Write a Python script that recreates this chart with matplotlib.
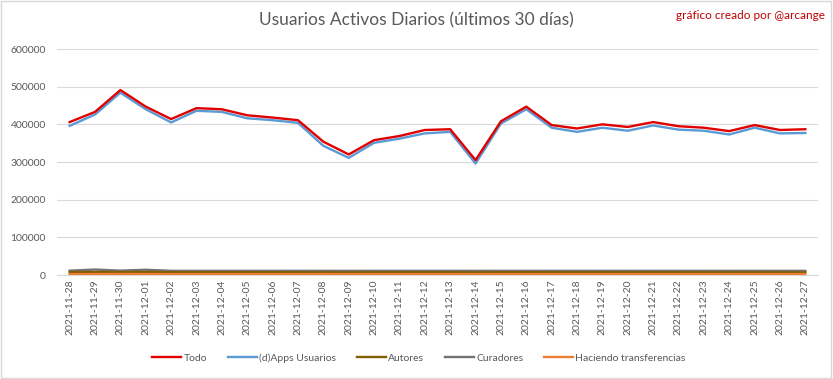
import matplotlib.pyplot as plt
from matplotlib.patches import Rectangle

plt.rcParams['font.family'] = ['Lato', 'DejaVu Sans']

fechas = ['2021-11-28', '2021-11-29', '2021-11-30', '2021-12-01', '2021-12-02',
          '2021-12-03', '2021-12-04', '2021-12-05', '2021-12-06', '2021-12-07',
          '2021-12-08', '2021-12-09', '2021-12-10', '2021-12-11', '2021-12-12',
          '2021-12-13', '2021-12-14', '2021-12-15', '2021-12-16', '2021-12-17',
          '2021-12-18', '2021-12-19', '2021-12-20', '2021-12-21', '2021-12-22',
          '2021-12-23', '2021-12-24', '2021-12-25', '2021-12-26', '2021-12-27']

todo = [406000, 433000, 491000, 447000, 414000, 443000, 440000, 424000, 418000, 411000,
        354000, 320000, 358000, 369000, 385000, 387000, 305000, 408000, 447000, 398000,
        389000, 400000, 393000, 406000, 395000, 391000, 382000, 398000, 385000, 387000]
dapps = [396000, 426000, 484000, 440000, 405000, 436000, 433000, 416000, 411000, 404000,
         343000, 311000, 351000, 362000, 376000, 380000, 296000, 402000, 440000, 391000,
         380000, 391000, 383000, 397000, 386000, 383000, 373000, 391000, 376000, 377000]
autores = [7500, 8000, 7800, 8000, 7600, 7400, 7300, 7200, 7200, 7100,
           6900, 6800, 7000, 7100, 7100, 7100, 6800, 7200, 7300, 7100,
           7000, 7100, 7000, 7100, 7000, 7000, 6900, 7000, 6900, 6900]
curadores = [11500, 14500, 11500, 14000, 11000, 11000, 11000, 11000, 11000, 11000,
             11000, 11000, 11000, 11000, 11000, 11000, 11000, 11000, 11000, 11000,
             11000, 11000, 11000, 11000, 11000, 11000, 11000, 11000, 11000, 11000]
transferencias = [2500, 2600, 2700, 2600, 2500, 2500, 2500, 2500, 2400, 2400,
                  2600, 2400, 2400, 2400, 2400, 2400, 2300, 2400, 2500, 2400,
                  2400, 2400, 2400, 2400, 2400, 2400, 2300, 2400, 2400, 2400]

fig = plt.figure(figsize=(8.33, 3.79), dpi=100)
ax = fig.add_axes([0.0684, 0.2744, 0.9136, 0.5963])

x = range(len(fechas))
ax.plot(x, todo, color='#E00000', lw=1.7, label='Todo', zorder=5)
ax.plot(x, dapps, color='#5B9BD5', lw=1.7, label='(d)Apps Usuarios', zorder=4)
ax.plot(x, autores, color='#806000', lw=1.7, label='Autores', zorder=3)
ax.plot(x, curadores, color='#767171', lw=1.7, label='Curadores', zorder=2)
ax.plot(x, transferencias, color='#ED7D31', lw=1.7, label='Haciendo transferencias', zorder=3)

ax.set_xlim(-0.5, len(fechas) - 0.5)
ax.set_ylim(0, 600000)
ax.set_yticks(range(0, 600001, 100000))
ax.set_xticks(list(x))
ax.set_xticklabels(fechas, rotation=90)
ax.tick_params(axis='both', length=0, colors='#595959', labelsize=7.5)
ax.tick_params(axis='y', pad=8)
ax.grid(axis='y', color='#D9D9D9', lw=0.8)
ax.set_axisbelow(True)
for s in ['top', 'right', 'left']:
    ax.spines[s].set_visible(False)
ax.spines['bottom'].set_color('#D9D9D9')

fig.text(0.5, 0.945, 'Usuarios Activos Diarios (últimos 30 días)', ha='center', va='center',
         fontsize=12.5, color='#595959')
fig.text(0.99, 0.96, 'gráfico creado por @arcange', ha='right', va='center',
         fontsize=8.5, color='#C00000')

fig.legend(loc='center', bbox_to_anchor=(0.503, 0.055), ncol=5, frameon=False,
           fontsize=7.5, handlelength=2.8, handletextpad=0.2, columnspacing=2.0,
           labelcolor='#595959')

fig.patches.append(Rectangle((0.001, 0.002), 0.997, 0.996, transform=fig.transFigure,
                             fill=False, edgecolor='#D9D9D9', lw=1))

fig.savefig('out.png', dpi=100)
